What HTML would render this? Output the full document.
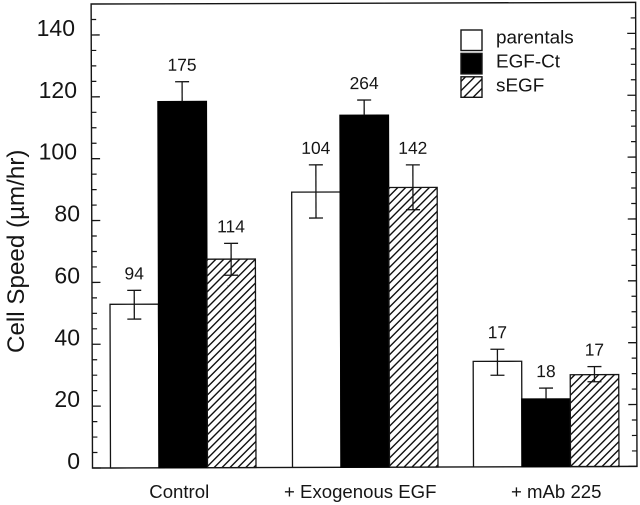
<!DOCTYPE html>
<html lang="en">
<head>
<meta charset="utf-8">
<title>Cell Speed Bar Chart</title>
<style>
html,body{margin:0;padding:0;background:#fff;width:640px;height:505px;overflow:hidden}
svg{display:block}
text{font-family:"Liberation Sans",Arial,sans-serif;fill:#151515}
</style>
</head>
<body>
<svg id="chart" xmlns="http://www.w3.org/2000/svg" width="640" height="505" viewBox="0 0 640 505">
<defs>
<pattern id="hatch" patternUnits="userSpaceOnUse" width="5.6" height="8" patternTransform="rotate(45)">
<rect width="5.6" height="8" fill="#fff"/>
<rect x="0" y="0" width="1.4" height="8" fill="#111"/>
</pattern>
<pattern id="hatch-legend" patternUnits="userSpaceOnUse" width="6.6" height="8" patternTransform="rotate(45)">
<rect width="6.6" height="8" fill="#fff"/>
<rect x="0" y="0" width="1.4" height="8" fill="#111"/>
</pattern>
</defs>
<g id="plot" transform="rotate(-0.17 92 468)"></g>
<text transform="translate(24 353) rotate(-90)" font-size="24.2">Cell Speed (µm/hr)</text>
</svg>
<script>
const categories = ['Control', '+ Exogenous EGF', '+ mAb 225'];
const seriesNames = ['parentals', 'EGF-Ct', 'sEGF'];
const parentals = [52.9, 89, 34.1];
const egfCt = [118.4, 113.8, 21.9];
const sEgf = [67.4, 90.4, 29.7];
const parentalsHigh = [57.4, 97.8, 38];
const egfCtHigh = [124.8, 118.7, 25.4];
const sEgfHigh = [72.5, 97.7, 32.3];
const parentalsLow = [48.1, 80.6, 29.6];
const egfCtLow = [118.4, 113.8, 21.9];
const sEgfLow = [62.2, 83.2, 27.4];
const parentalsLabels = ['94', '104', '17'];
const egfCtLabels = ['175', '264', '18'];
const sEgfLabels = ['114', '142', '17'];
const yTickLabels = [0, 20, 40, 60, 80, 100, 120, 140];
const yMinorTicks = [5, 10, 15, 25, 30, 35, 45, 50, 55, 65, 70, 75, 85, 90, 95, 105, 110, 115, 125, 130, 135, 145];

const NS = 'http://www.w3.org/2000/svg';
const plot = document.getElementById('plot');
const root = document.getElementById('chart');
const INK = '#151515';
const left = 92.5, right = 637, top_ = 4, bottom = 468;
const y = v => bottom - v * 3.093;
const groupX = i => [110.5, 292.5, 473.5][i];
const barW = 48.5;
const barX = (g, s) => groupX(g) + s * barW;

function mk(tag, attrs, parent) {
  const el = document.createElementNS(NS, tag);
  for (const k in attrs) el.setAttribute(k, attrs[k]);
  (parent || plot).appendChild(el);
  return el;
}

const frame = mk('rect', {x: left, y: top_, width: right - left, height: bottom - top_, fill: 'none', stroke: INK, 'stroke-width': 1.4});



yTickLabels.forEach(v => {
  const t1 = mk('line', {x1: left, x2: left + 8.5, y1: y(v), y2: y(v), stroke: INK, 'stroke-width': 1.3});
  
  
  const t2 = mk('line', {x1: right - 8.5, x2: right, y1: y(v), y2: y(v), stroke: INK, 'stroke-width': 1.3});
  
  
  const lab = mk('text', {x: v === 140 ? 75 : (v >= 100 ? 77 : 80), y: y(v) + 1, 'text-anchor': 'end', 'font-size': 23}, root);
  lab.textContent = v;
  
  
});
yMinorTicks.forEach(v => {
  const t1 = mk('line', {x1: left, x2: left + 5, y1: y(v), y2: y(v), stroke: INK, 'stroke-width': 1.2});
  
  
  const t2 = mk('line', {x1: right - 5, x2: right, y1: y(v), y2: y(v), stroke: INK, 'stroke-width': 1.2});
  
  
});

const fills = ['#fff', '#000', 'url(#hatch)'];
const legendFills = ['#fff', '#000', 'url(#hatch-legend)'];
const vals = [parentals, egfCt, sEgf];
const highs = [parentalsHigh, egfCtHigh, sEgfHigh];
const lows = [parentalsLow, egfCtLow, sEgfLow];
const labels = [parentalsLabels, egfCtLabels, sEgfLabels];

categories.forEach((cat, g) => {
  seriesNames.forEach((name, s) => {
    const bx = barX(g, s), v = vals[s][g];
    const bar = mk('rect', {x: bx, y: y(v), width: barW, height: bottom - y(v), fill: fills[s], stroke: s === 1 ? '#000' : INK, 'stroke-width': 1.3});
    
    
  });
  seriesNames.forEach((name, s) => {
    const cx = barX(g, s) + barW / 2;
    const hi = y(highs[s][g]), lo = y(lows[s][g]);
    const stem = mk('line', {x1: cx, x2: cx, y1: hi, y2: lo, stroke: INK, 'stroke-width': 1.3});
    
    
    const capTop = mk('line', {x1: cx - 7, x2: cx + 7, y1: hi, y2: hi, stroke: INK, 'stroke-width': 1.3});
    
    
    if (s !== 1) {
      const capLow = mk('line', {x1: cx - 7, x2: cx + 7, y1: lo, y2: lo, stroke: INK, 'stroke-width': 1.3});
      
      
    }
    const txt = mk('text', {x: cx, y: hi - 11, 'text-anchor': 'middle', 'font-size': 17.4});
    txt.textContent = labels[s][g];
    
    
  });
  const xl = mk('text', {x: barX(g, 1) + barW / 2 - [4, 5, -10][g], y: 498, 'text-anchor': 'middle', 'font-size': 18.6}, root);
  xl.textContent = cat;
  
  
});

seriesNames.forEach((name, s) => {
  const top = 30 + s * 23.4;
  const sw = mk('rect', {x: 461, y: top, width: 21, height: 20.5, fill: legendFills[s], stroke: INK, 'stroke-width': 1.4}, root);
  
  
  const lt = mk('text', {x: 496, y: top + 13.5 + s * 0.6, 'font-size': 18.9}, root);
  lt.textContent = name;
  
  
});
</script>
</body>
</html>
